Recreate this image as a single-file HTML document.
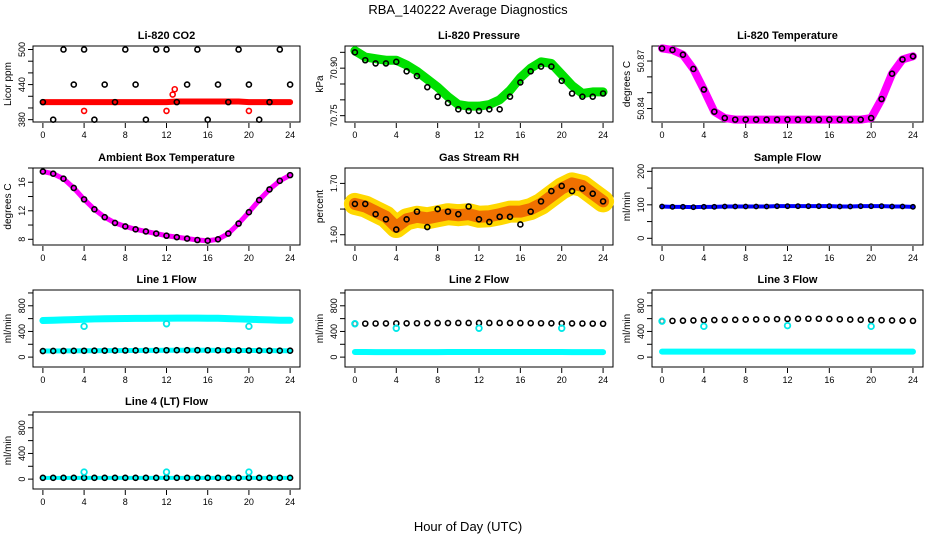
<!DOCTYPE html>
<html><head><meta charset="utf-8">
<style>
html,body{margin:0;padding:0;background:#fff;}
svg{display:block;font-family:"Liberation Sans",Arial,sans-serif;}
</style></head>
<body>
<svg id="chart" width="936" height="540" viewBox="0 0 936 540">
<text x="468" y="14" text-anchor="middle" font-size="13">RBA_140222  Average Diagnostics</text>
<text x="468" y="531" text-anchor="middle" font-size="13">Hour of Day (UTC)</text>
</svg>
<script>
// ---- data ----
const hours = [0,1,2,3,4,5,6,7,8,9,10,11,12,13,14,15,16,17,18,19,20,21,22,23,24];
const xTicks = [0,4,8,12,16,20,24];
const co2Red = [410,410,410,410,410,410,410,410,410,410,410,410,410,411,411,411,411,411,411,411,410,410,410,410,410];
const co2Black = [410,380,500,440,500,380,440,410,500,440,380,500,500,410,440,500,380,440,410,500,440,380,410,500,440];
const pressure = [70.955,70.935,70.93,70.925,70.925,70.91,70.89,70.865,70.84,70.81,70.785,70.78,70.78,70.785,70.80,70.83,70.87,70.90,70.92,70.915,70.88,70.845,70.82,70.825,70.825];
const pressureBlack = [70.95,70.925,70.915,70.915,70.92,70.89,70.875,70.84,70.81,70.79,70.77,70.765,70.765,70.77,70.77,70.81,70.855,70.89,70.905,70.905,70.86,70.82,70.81,70.81,70.82];
const liTemp = [50.878,50.877,50.874,50.865,50.852,50.838,50.834,50.833,50.833,50.833,50.833,50.833,50.833,50.833,50.833,50.833,50.833,50.833,50.833,50.833,50.834,50.846,50.862,50.871,50.873];
const ambient = [17.5,17.2,16.5,15.2,13.6,12.2,11.1,10.3,9.8,9.4,9.1,8.8,8.5,8.3,8.1,7.9,7.8,8.0,8.8,10.2,11.8,13.5,15.0,16.2,17.0];
const rh = [1.66,1.655,1.645,1.635,1.615,1.63,1.635,1.632,1.636,1.64,1.638,1.64,1.635,1.636,1.64,1.645,1.645,1.65,1.66,1.675,1.69,1.70,1.695,1.68,1.665];
const rhBlack = [1.66,1.66,1.64,1.63,1.61,1.63,1.645,1.615,1.65,1.645,1.64,1.655,1.63,1.625,1.635,1.635,1.62,1.645,1.665,1.685,1.695,1.685,1.69,1.68,1.665];
const sampleFlow = [95,94,94,93,94,94,95,95,95,95,95,96,96,96,96,96,96,95,95,96,96,96,95,95,94];
const line1Cyan = [570,575,580,585,590,595,598,600,602,603,604,605,606,607,607,607,606,605,600,595,590,585,580,575,575];
const line1Black = [95,96,97,98,99,100,101,102,103,104,105,106,107,108,108,108,107,106,105,104,103,102,101,100,100];
const line2Black = [520,522,524,525,526,527,528,529,530,531,532,532,532,532,532,531,530,529,528,527,526,525,524,522,520];
const line2Cyan = [80,79,78,78,78,78,78,78,78,79,79,80,80,80,80,80,80,79,79,79,79,78,78,78,78];
const line3Black = [560,565,568,572,575,578,580,582,585,588,590,592,595,597,598,598,595,590,585,582,578,575,572,568,565];
const line3Cyan = [85,85,85,85,85,85,85,85,85,85,86,86,86,86,86,86,86,85,85,85,85,85,85,85,85];
const line4Black = [20,20,20,20,20,20,20,20,20,20,20,20,20,20,20,20,20,20,20,20,20,20,20,20,20];
const outlierHours = [4,12,20];
const line1Out = [480,520,480];
const line2Out = [450,450,450];
const line3Out = [480,490,480];
const line4Out = [110,110,110];

// ---- layout ----
const NS = "http://www.w3.org/2000/svg";
const svg = document.getElementById('chart');
const cols = [[33,300],[345,613],[652,923]];
const rows = [[46,122],[168,245],[290,367],[412,489]];
function el(tag, attrs, parent){const e=document.createElementNS(NS,tag);for(const k in attrs)e.setAttribute(k,attrs[k]);(parent||svg).appendChild(e);return e;}

function panel(ci, ri, title, ytitle, ymin, ymax, ticks, labels){
  const [x0,x1]=cols[ci],[y0,y1]=rows[ri];
  const g=el('g',{});
  
  
  const xs=h=>x0+(h+0.96)/25.92*(x1-x0);
  const ys=v=>y1-(v-ymin)/(ymax-ymin)*(y1-y0);
  const r=el('rect',{x:x0,y:y0,width:x1-x0,height:y1-y0,fill:'none',stroke:'#000','stroke-width':1},g);
  
  
  const t=el('text',{x:(x0+x1)/2,y:y0-7,'text-anchor':'middle','font-size':11,'font-weight':'bold'},g);
  t.textContent=title;
  
  
  const yt=el('text',{transform:`translate(${x0-22},${(y0+y1)/2}) rotate(-90)`,'text-anchor':'middle','font-size':10},g);
  yt.textContent=ytitle;
  
  
  xTicks.forEach(h=>{
    el('line',{x1:xs(h),x2:xs(h),y1:y1+1,y2:y1+6,stroke:'#000'},g);
    const l=el('text',{x:xs(h),y:y1+16,'text-anchor':'middle','font-size':9},g);
    l.textContent=h;
    
    
  });
  ticks.forEach(v=>el('line',{x1:x0,x2:x0-5,y1:ys(v),y2:ys(v),stroke:'#000'},g));
  labels.forEach(v=>{
    const l=el('text',{transform:`translate(${x0-8},${ys(v)}) rotate(-90)`,'text-anchor':'middle','font-size':9},g);
    l.textContent=v;
    
    
  });
  return {g,xs,ys};
}
function band(p, vals, color, w, name){
  const pl=el('polyline',{points:vals.map((v,i)=>p.xs(hours[i])+','+p.ys(v)).join(' '),fill:'none',stroke:color,'stroke-width':w,'stroke-linejoin':'round','stroke-linecap':'round'},p.g);
  
  
}
function dots(p, xsArr, vals, color, r, sw, name){
  vals.forEach((v,i)=>{
    const c=el('circle',{cx:p.xs(xsArr[i]),cy:p.ys(v),r:r,fill:'none',stroke:color,'stroke-width':sw},p.g);
    
    
  });
}
const halfHours = hours.map(h=>h);

// CO2
let p=panel(0,0,'Li-820 CO2','Licor ppm',376,506,[380,400,420,440,460,480,500],[380,440,500]);
band(p,co2Red,'#f00',6,'co2-red-series');
dots(p,hours,co2Black,'#000',2.5,1.6,'co2-point');
dots(p,[4,12,20,12.6,12.8],[395,395,395,423,432],'#f00',2.5,1.6,'co2-red-point');
// Pressure
p=panel(1,0,'Li-820 Pressure','kPa',70.73,70.97,[70.75,70.80,70.85,70.90,70.95],['70.75','70.90']);
band(p,pressure,'#00e000',9,'pressure-series');
dots(p,hours,pressureBlack,'#000',2.5,1.6,'pressure-point');
// Li temp
p=panel(2,0,'Li-820 Temperature','degrees C',50.8315,50.8795,[50.84,50.85,50.86,50.87],['50.84','50.87']);
band(p,liTemp,'#f0f',8,'li-temp-series');
dots(p,hours,liTemp,'#000',2.5,1.6,'li-temp-point');
// Ambient
p=panel(0,1,'Ambient Box Temperature','degrees C',7.2,18,[8,10,12,14,16,18],[8,12,16]);
band(p,ambient,'#f0f',5,'ambient-series');
dots(p,hours,ambient,'#000',2.5,1.6,'ambient-point');
// RH
p=panel(1,1,'Gas Stream RH','percent',1.58,1.73,[1.60,1.65,1.70],['1.60','1.70']);
band(p,rh,'#ffd800',22,'rh-yellow-band');
band(p,rh,'#f07000',12,'rh-orange-band');
dots(p,hours,rhBlack,'#000',2.5,1.6,'rh-point');
// Sample flow
p=panel(2,1,'Sample Flow','ml/min',-20,210,[0,50,100,150,200],[0,100,200]);
band(p,sampleFlow,'#0000ff',4,'sample-flow-series');
dots(p,hours,sampleFlow,'#000',2.2,1.4,'sample-flow-point');
// Flows
const fT=[0,200,400,600,800,1000], fL=[0,400,800];
p=panel(0,2,'Line 1 Flow','ml/min',-154,1046,fT,fL);
band(p,line1Cyan,'#00ffff',7,'line1-cyan-series');
band(p,line1Black,'#00ffff',5,'line1-cyan-low');
dots(p,hours,line1Black,'#000',2.5,1.6,'line1-point');
dots(p,outlierHours,line1Out,'#00e8e8',2.8,1.8,'line1-outlier');
p=panel(1,2,'Line 2 Flow','ml/min',-154,1046,fT,fL);
band(p,line2Cyan,'#00ffff',6,'line2-cyan-series');
dots(p,hours,line2Black,'#000',2.5,1.6,'line2-point');
dots(p,[0].concat(outlierHours),[520].concat(line2Out),'#00e8e8',2.8,1.8,'line2-outlier');
p=panel(2,2,'Line 3 Flow','ml/min',-154,1046,fT,fL);
band(p,line3Cyan,'#00ffff',6,'line3-cyan-series');
dots(p,hours,line3Black,'#000',2.5,1.6,'line3-point');
dots(p,[0].concat(outlierHours),[560].concat(line3Out),'#00e8e8',2.8,1.8,'line3-outlier');
p=panel(0,3,'Line 4 (LT) Flow','ml/min',-154,1046,fT,fL);
band(p,line4Black,'#00ffff',4,'line4-cyan-series');
dots(p,hours,line4Black,'#000',2.5,1.6,'line4-point');
dots(p,outlierHours,line4Out,'#00e8e8',2.8,1.8,'line4-outlier');
</script>
</body></html>
